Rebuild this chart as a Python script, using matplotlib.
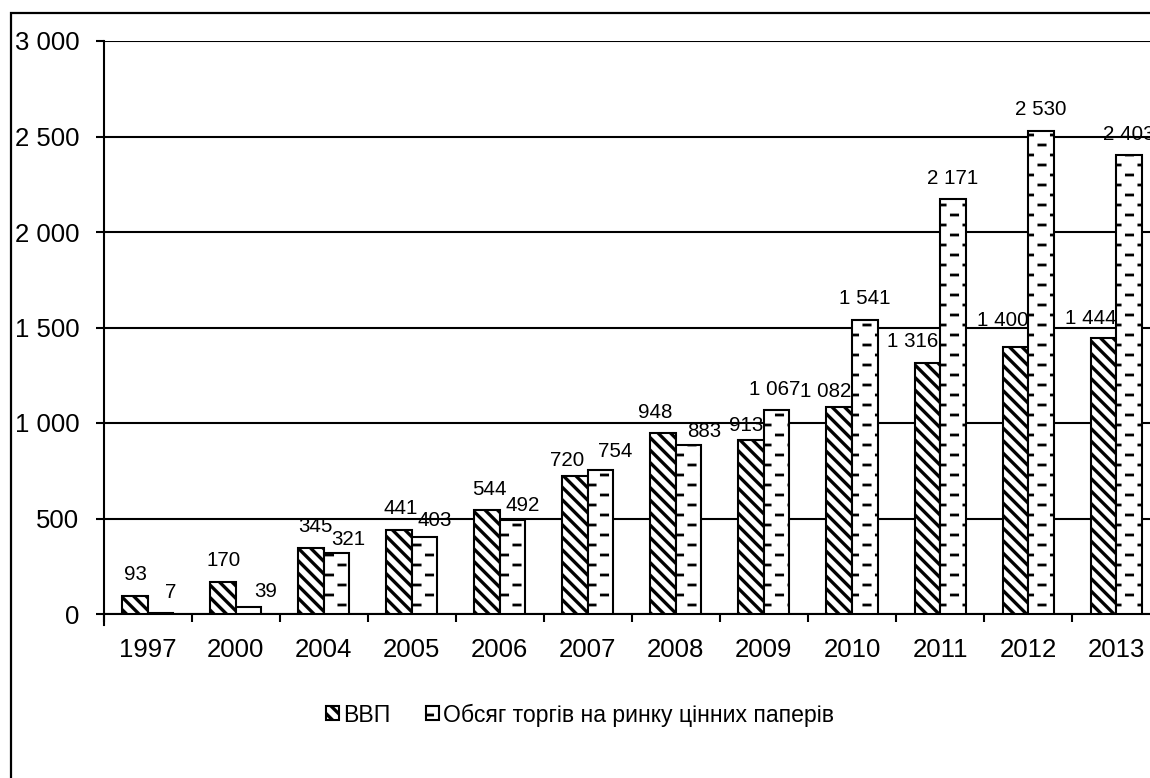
import numpy as np
import matplotlib
matplotlib.use("Agg")
import matplotlib.pyplot as plt
import matplotlib.hatch as mhatch
from matplotlib.path import Path
from matplotlib.patches import Rectangle

# ---------------- data ----------------
years = ['1997', '2000', '2004', '2005', '2006', '2007',
         '2008', '2009', '2010', '2011', '2012', '2013']
gdp = [93, 170, 345, 441, 544, 720, 948, 913, 1082, 1316, 1400, 1444]
volume = [7, 39, 321, 403, 492, 754, 883, 1067, 1541, 2171, 2530, 2403]
y_ticks = [0, 500, 1000, 1500, 2000, 2500, 3000]
series_names = ['ВВП', 'Обсяг торгів на ринку цінних паперів']

# label nudges (layout only, in pixels: dx right, dy up)
gdp_label_dx = [1, 1, 4, 2, 2, -7.5, -7.5, -5.5, -14, -15, -13, -13]
gdp_label_dy = [1, 0, 1, 0, 0, -5, 0, -7, -4.5, 0, 5, -1]
vol_label_dx = [10, 17, 12, 10, 10, 15, 15.5, -2, 0, 0, 0, 0]
vol_label_dy = [-0.5, -6, -8, -4, -6, -2, -7, 0, 0, 0, 0.5, 0]


# ---------------- custom hatches ----------------
class DiagStrips(mhatch.HatchPatternBase):
    """'\\' -> thick descending diagonal strips (filled polygons)."""
    def __init__(self, hatch, density):
        n = hatch.count('\\')
        self.n = 8 if n else 0
        self.ks = list(range(-2, 2 * self.n + 3)) if self.n else []
        self.num_vertices = 5 * len(self.ks)

    def set_vertices_and_codes(self, vertices, codes):
        h = 0.023
        x0, x1 = -0.1, 1.1
        for i, k in enumerate(self.ks):
            c = k / self.n
            v = [(x0, c - x0 + h), (x1, c - x1 + h),
                 (x1, c - x1 - h), (x0, c - x0 - h), (x0, c - x0 + h)]
            vertices[5 * i:5 * i + 5] = v
            codes[5 * i:5 * i + 5] = [Path.MOVETO, Path.LINETO, Path.LINETO,
                                      Path.LINETO, Path.CLOSEPOLY]


class DashRects(mhatch.HatchPatternBase):
    """'-' -> staggered short horizontal dashes (filled rectangles)."""
    def __init__(self, hatch, density):
        n = hatch.count('-')
        self.items = []
        if n:
            rows, per_row = 10, 4
            for r in range(rows):
                y = (r + 0.5) / rows
                off = 0.0 if r % 2 == 0 else 0.5 / per_row
                for j in range(-1, per_row + 1):
                    xx = j / per_row + off
                    self.items.append((xx, y))
        self.num_vertices = 5 * len(self.items)

    def set_vertices_and_codes(self, vertices, codes):
        L, t = 0.09, 0.0135
        for i, (xx, y) in enumerate(self.items):
            v = [(xx, y - t), (xx + L, y - t), (xx + L, y + t), (xx, y + t),
                 (xx, y - t)]
            vertices[5 * i:5 * i + 5] = v
            codes[5 * i:5 * i + 5] = [Path.MOVETO, Path.LINETO, Path.LINETO,
                                      Path.LINETO, Path.CLOSEPOLY]


mhatch._hatch_types = [DiagStrips, DashRects]
plt.rcParams['hatch.linewidth'] = 0.05
plt.rcParams['font.family'] = ['Liberation Sans', 'DejaVu Sans']

# ---------------- figure ----------------
W, H = 1150, 778
DPI = 100
PX2PT = 72.0 / DPI
fig = plt.figure(figsize=(W / DPI, H / DPI), dpi=DPI)
ax_left, ax_right = 103.5, 1160.2
ax_top, ax_bottom = 41, 614
ax = fig.add_axes([ax_left / W, (H - ax_bottom) / H,
                   (ax_right - ax_left) / W, (ax_bottom - ax_top) / H])

x = np.arange(len(years))
bw = 0.29
b1 = ax.bar(x - bw / 2, gdp, bw, facecolor='white', edgecolor='black',
            linewidth=1.5, hatch='\\', zorder=3, label=series_names[0])
b2 = ax.bar(x + bw / 2, volume, bw, facecolor='white', edgecolor='black',
            linewidth=1.5, hatch='-', zorder=3, label=series_names[1])


def fmt(v):
    return '{:,}'.format(v).replace(',', ' ')


base_px = 15.3  # baseline above bar top
for xs, vals, dxs, dys in [(x - bw / 2, gdp, gdp_label_dx, gdp_label_dy),
                           (x + bw / 2, volume, vol_label_dx, vol_label_dy)]:
    for xi, v, dx, dy in zip(xs, vals, dxs, dys):
        ax.annotate(fmt(v), (xi, v),
                    xytext=(dx * PX2PT, (base_px + dy) * PX2PT),
                    textcoords='offset points', ha='center', va='baseline',
                    fontsize=14.8, zorder=5, annotation_clip=False)

ax.set_xlim(-0.5, len(years) - 0.5)
ax.set_ylim(0, 3000)
ax.set_yticks(y_ticks)
ax.set_yticklabels([fmt(v) for v in y_ticks])
ax.set_xticks(x)
ax.set_xticklabels(years)
ax.set_xticks(np.arange(len(years) + 1) - 0.5, minor=True)
ax.tick_params(axis='x', which='major', length=0, pad=17, labelsize=18.5)
ax.tick_params(axis='x', which='minor', length=6, width=1.5, direction='out')
ax.tick_params(axis='y', which='major', length=6, width=1.5, direction='out',
               pad=11.5, labelsize=18.5)

ax.grid(axis='y', color='black', linewidth=1.5, zorder=0)
ax.set_axisbelow(True)
for s in ['top', 'right']:
    ax.spines[s].set_visible(False)
for s in ['left', 'bottom']:
    ax.spines[s].set_linewidth(1.5)
ax.spines['left'].set_bounds(-60, 3000)
ax.spines['left'].set_zorder(4)

leg = fig.legend(handles=[b1, b2], loc='center',
                 bbox_to_anchor=(580 / W, 1 - 715 / H), ncol=2, frameon=False,
                 fontsize=16.6, handlelength=0.56, handleheight=0.56,
                 handletextpad=0.15, columnspacing=1.57, borderaxespad=0)

# outer frame (left and top visible, rest outside the image)
fig.patches.append(Rectangle((10.5 / W, -0.2), 2.0, 1.2 - 12.5 / H,
                             transform=fig.transFigure, fill=False,
                             edgecolor='black', linewidth=1.6))

fig.savefig('out.png', dpi=DPI)
